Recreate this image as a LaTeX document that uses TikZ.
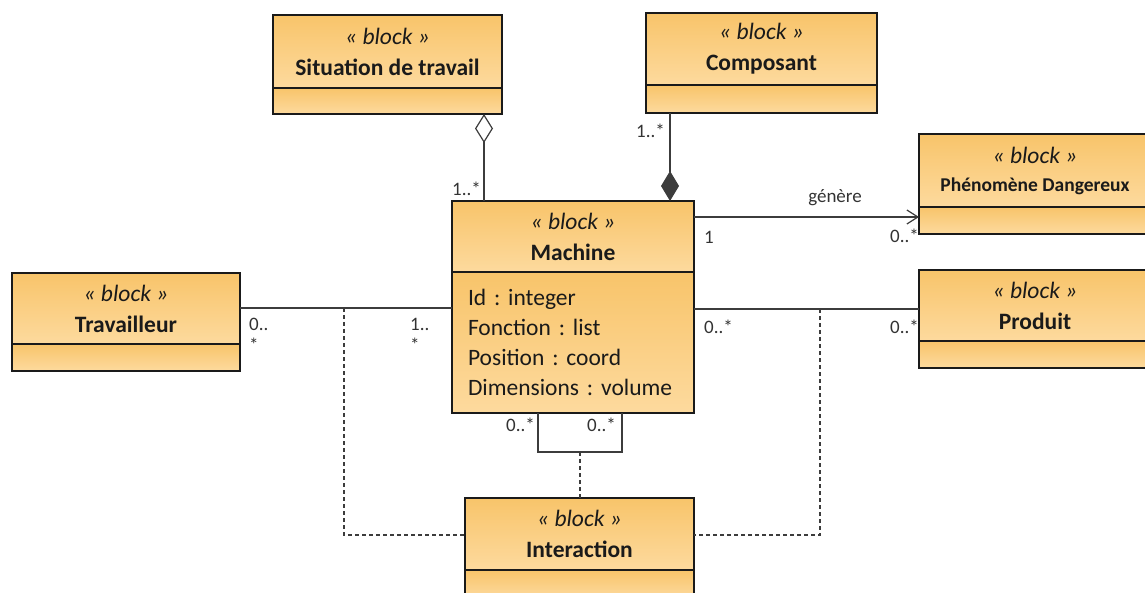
\documentclass[tikz,border=0pt]{standalone}
\usepackage{fontspec}
\setmainfont{Carlito}
\usetikzlibrary{arrows.meta,calc}
\frenchspacing
\definecolor{boxtop}{HTML}{F8C46A}
\definecolor{boxbot}{HTML}{FDDA9E}
\definecolor{bordr}{HTML}{1A1A1A}
\definecolor{lineclr}{HTML}{3C3C3C}
\definecolor{txt}{HTML}{1A1A1A}
\definecolor{lbl}{HTML}{333333}
\tikzset{
  hdr/.style={draw=bordr, line width=1.8pt, top color=boxtop, bottom color=boxbot,
    inner sep=0pt, outer sep=0pt, anchor=north west, align=center, text=txt,
    font=\fontsize{23.5}{31}\selectfont},
  cmp/.style={draw=bordr, line width=1.8pt, top color=boxtop, bottom color=boxbot,
    inner sep=0pt, outer sep=0pt, anchor=north west},
  conn/.style={draw=lineclr, line width=1.2pt},
  dsh/.style={draw=lineclr, line width=1.1pt, dash pattern=on 4pt off 3pt},
  mult/.style={font=\fontsize{19}{19}\selectfont, text=lbl, inner sep=0pt},
}
\begin{document}
\begin{tikzpicture}[x=1pt,y=1pt]
\path[use as bounding box, clip] (0,0) rectangle (1145,-593);
% boxes
\node[hdr, minimum width=229pt, minimum height=73pt] (sit) at (273,-15)
  {\textit{« block »}\\\textbf{Situation de travail}};
\node[cmp, minimum width=229pt, minimum height=26pt] (sitb) at (sit.south west) {};

\node[hdr, minimum width=231pt, minimum height=72pt] (comp) at (646,-13)
  {\textit{« block »}\\\textbf{Composant}};
\node[cmp, minimum width=231pt, minimum height=28pt] (compb) at (comp.south west) {};

\node[hdr, minimum width=232pt, minimum height=73pt, font=\fontsize{23.5}{28}\selectfont] (phen) at (919,-134)
  {\textit{« block »}\\{\fontsize{19.5}{28}\selectfont\bfseries Phénomène Dangereux}};
\node[cmp, minimum width=232pt, minimum height=27pt] (phenb) at (phen.south west) {};

\node[hdr, minimum width=232pt, minimum height=71pt] (prod) at (919,-270)
  {\textit{« block »}\\\textbf{Produit}};
\node[cmp, minimum width=232pt, minimum height=27pt] (prodb) at (prod.south west) {};

\node[hdr, minimum width=228pt, minimum height=71pt] (trav) at (12,-273)
  {\textit{« block »}\\\textbf{Travailleur}};
\node[cmp, minimum width=228pt, minimum height=27pt] (travb) at (trav.south west) {};

\node[hdr, minimum width=242pt, minimum height=71pt] (mach) at (452,-201)
  {\textit{« block »}\\\textbf{Machine}};
\node[cmp, minimum width=242pt, minimum height=141pt, inner xsep=16pt, text width=210pt,
  align=left, text=txt, font=\fontsize{23.5}{30}\selectfont] (mattr) at (mach.south west)
  {Id : integer\\Fonction : list\\Position : coord\\Dimensions : volume};

\node[hdr, minimum width=229pt, minimum height=72pt] (inter) at (465,-498)
  {\textit{« block »}\\\textbf{Interaction}};
\node[cmp, minimum width=229pt, minimum height=28pt] (interb) at (inter.south west) {};

% aggregation
\draw[conn, -{Diamond[open, length=29pt, width=18pt, fill=white]}]
  ([xshift=32pt]mach.north west) -- ([xshift=211pt]sitb.south west);
% composition
\draw[conn, -{Diamond[length=30pt, width=18pt]}]
  ([xshift=24pt]compb.south west) -- ([xshift=218pt]mach.north west);
% genere
\draw[conn, -{Straight Barb[length=11pt, width=14pt]}]
  ([yshift=-16pt]mach.north east) -- ([yshift=-10pt]phenb.north west);
% travailleur - machine
\draw[conn] ([yshift=-35pt]trav.north east) -- ([yshift=-36pt]mattr.north west);
% machine - produit
\draw[conn] ([yshift=-37pt]mattr.north east) -- ([yshift=-39pt]prod.north west);
% self association
\draw[conn] ([xshift=86pt]mattr.south west) -- ++(0,-39) coordinate (sl)
  -| ([xshift=170pt]mattr.south west) coordinate (sr);
\coordinate (smid) at ($(sl)!0.5!(sl -| sr)$);
\draw[dsh] (smid) -- (smid |- inter.north);
% dashed association class links
\coordinate (lt) at (344,-308);
\coordinate (rt) at (820,-309);
\draw[dsh] (lt) |- ([yshift=-37pt]inter.north west);
\draw[dsh] (rt) |- ([yshift=-37pt]inter.north east);

% multiplicities and labels
\node[mult, anchor=east] (m1) at (481,-189) {1..*};
\node[mult, anchor=east] (m2) at (665,-131) {1..*};
\node[mult] (gen) at (835,-198) {génère};
\node[mult] (m3) at (709,-237) {1};
\node[mult, anchor=east] (m4) at (919,-236) {0..*};
\node[mult, anchor=north west, align=left, font=\fontsize{19}{21}\selectfont] (m5) at (249,-318) {0..\\*};
\node[mult, anchor=north west, align=left, font=\fontsize{19}{21}\selectfont] (m6) at (410,-318) {1..\\*};
\node[mult, anchor=west] (m7) at (704,-327) {0..*};
\node[mult, anchor=east] (m8) at (919,-327) {0..*};
\node[mult, anchor=east] (m9) at (535,-425) {0..*};
\node[mult, anchor=east] (m10) at (616,-425) {0..*};
\end{tikzpicture}
\end{document}
